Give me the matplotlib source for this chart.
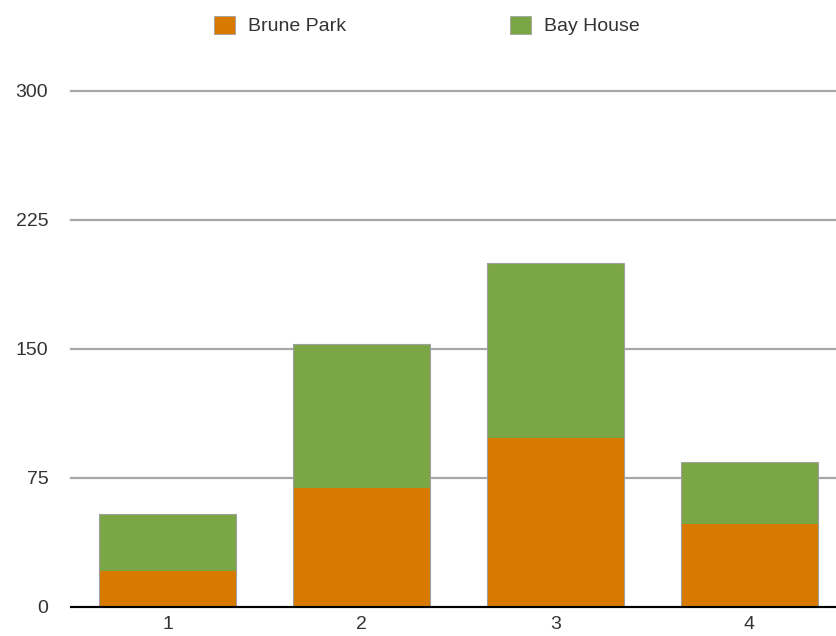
import numpy as np
import matplotlib
matplotlib.use("Agg")
import matplotlib.pyplot as plt

plt.rcParams['font.family'] = ['Liberation Sans', 'DejaVu Sans']

# data
categories = ['1', '2', '3', '4']
brune_park = [21, 69, 98, 48]
bay_house = [33, 84, 102, 36]
yticks = [0, 75, 150, 225, 300]

orange = '#d87a00'
green = '#7ba645'

fig = plt.figure(figsize=(8.37, 6.36), dpi=100)
ax = fig.add_axes([70.5 / 837, 1 - 606.7 / 636, 1 - 70.5 / 837, (606.7 - 90.7) / 636])

x = np.arange(1, len(categories) + 1)
w = 0.706
ax.bar(x, brune_park, w, color=orange, linewidth=0, label='Brune Park', zorder=3)
ax.bar(x, bay_house, w, bottom=brune_park, color=green, linewidth=0,
       label='Bay House', zorder=3)
# thin gray outline round each whole stack
totals = np.array(brune_park) + np.array(bay_house)
ax.bar(x, totals, w, facecolor='none', edgecolor='#a0a0a0', linewidth=0.8, zorder=3.5)

ax.set_xlim(0.5, 0.5 + (837 - 70.5) / 194)
ax.set_ylim(0, 300)
ax.set_xticks(x)
ax.set_xticklabels(categories)
ax.set_yticks(yticks)
ax.set_yticklabels([str(v) for v in yticks])

ax.grid(axis='y', color='#a8a8a8', linewidth=1.6, zorder=0)
for gl in ax.get_ygridlines():
    gl.set_clip_on(False)
for s in ['top', 'right', 'left']:
    ax.spines[s].set_visible(False)
ax.spines['bottom'].set_color('black')
ax.spines['bottom'].set_linewidth(1.5)
ax.spines['bottom'].set_zorder(4)
ax.tick_params(axis='both', length=0, labelsize=14, labelcolor='#333333')
ax.tick_params(axis='y', pad=16)
ax.tick_params(axis='x', pad=7)

leg = fig.legend(loc='center', bbox_to_anchor=(0.51, 0.96), ncol=2, frameon=False,
                 fontsize=14, handlelength=1.08, handleheight=1.08,
                 handletextpad=0.67, columnspacing=8.4, labelcolor='#333333')
for h in leg.legend_handles:
    h.set_edgecolor('#a0a0a0')
    h.set_linewidth(0.6)

fig.savefig('out.png', dpi=100)
